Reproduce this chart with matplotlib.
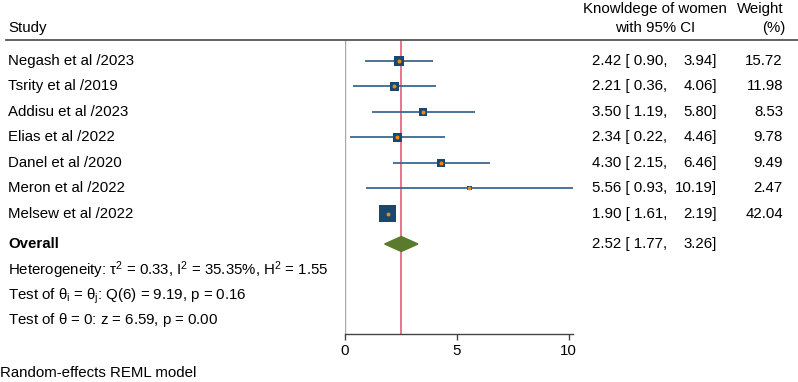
import matplotlib
matplotlib.use('Agg')
import matplotlib.pyplot as plt
import matplotlib.transforms as mtransforms
from matplotlib.lines import Line2D
from matplotlib.patches import Polygon
import numpy as np

plt.rcParams['font.family'] = ['Liberation Sans', 'DejaVu Sans']
plt.rcParams['mathtext.fontset'] = 'custom'
plt.rcParams['mathtext.rm'] = 'Liberation Sans'
plt.rcParams['mathtext.it'] = 'Liberation Sans'
plt.rcParams['mathtext.default'] = 'regular'

# data
studies = ['Negash et al /2023', 'Tsrity et al /2019', 'Addisu et al /2023',
           'Elias et al /2022', 'Danel et al /2020', 'Meron et al /2022',
           'Melsew et al /2022']
es = [2.42, 2.21, 3.50, 2.34, 4.30, 5.56, 1.90]
lo = [0.90, 0.36, 1.19, 0.22, 2.15, 0.93, 1.61]
hi = [3.94, 4.06, 5.80, 4.46, 6.46, 10.19, 2.19]
weight = [15.72, 11.98, 8.53, 9.78, 9.49, 2.47, 42.04]
overall = (2.52, 1.77, 3.26)
stats_lines = [r'Heterogeneity: $\tau^2$ = 0.33, $I^2$ = 35.35%, $H^2$ = 1.55',
               r'Test of $\theta_i$ = $\theta_j$: Q(6) = 9.19, p = 0.16',
               r'Test of $\theta$ = 0: z = 6.59, p = 0.00']

W, H = 798, 382
fig = plt.figure(figsize=(W / 100, H / 100), dpi=100)

# plot region in pixels
x0px, x1px = 345, 573
ytop, ybot = 40, 334
ax = fig.add_axes([x0px / W, 1 - ybot / H, (x1px - x0px) / W, (ybot - ytop) / H])
ax.set_xlim(0, 10.19)
row_h = 25.45
ax.set_ylim((ybot - 61) / row_h, (ytop - 61) / row_h)

navy = '#1a476f'
ci_col = '#3d6892'
orange = '#ec8a14'
green = '#5a7a2c'
red = '#e0506f'

rows = np.arange(len(studies))
ax.axvline(0, color='#a8a8a8', lw=1.0, zorder=1)
ax.axvline(overall[0], color=red, lw=1.1, zorder=2)
ax.hlines(rows, lo, hi, color=ci_col, lw=1.3, zorder=3)
sizes = (17.5 * 0.72) ** 2 * np.array(weight) / max(weight)
ax.scatter(es, rows, s=sizes, marker='s', color=navy, linewidths=0, zorder=4)
ax.scatter(es, rows, s=8, marker='o', color=orange, linewidths=0, zorder=5)

y_ov = (244 - 61) / row_h
dh = 7.5 / row_h
diamond = Polygon([[overall[1], y_ov], [overall[0], y_ov - dh],
                   [overall[2], y_ov], [overall[0], y_ov + dh]],
                  closed=True, color=green, zorder=4)
ax.add_patch(diamond)

for s in ['top', 'right', 'left']:
    ax.spines[s].set_visible(False)
ax.spines['bottom'].set_color('#444444')
ax.spines['bottom'].set_linewidth(1.0)
ax.set_yticks([])
ax.set_xticks([0, 5, 10])
fs = 10.8
ax.tick_params(axis='x', length=4, width=1.0, color='#444444', labelsize=fs, pad=3)

# text columns
tr = mtransforms.blended_transform_factory(fig.transFigure, ax.transData)
lx = 8 / W
ax.text(lx, (28 - 61) / row_h, 'Study', transform=tr, fontsize=fs, va='center')
for i, name in enumerate(studies):
    ax.text(lx, i, name, transform=tr, fontsize=fs, va='center')
    ax.text(592 / W, i, f'{es[i]:.2f} [ {lo[i]:.2f},', transform=tr, fontsize=fs, va='center')
    ax.text(717 / W, i, f'{hi[i]:.2f}]', transform=tr, fontsize=fs, va='center', ha='right')
    ax.text(783 / W, i, f'{weight[i]:.2f}', transform=tr, fontsize=fs, va='center', ha='right')

ax.text(lx, y_ov, 'Overall', transform=tr, fontsize=fs, va='center', fontweight='bold')
ax.text(592 / W, y_ov, f'{overall[0]:.2f} [ {overall[1]:.2f},', transform=tr, fontsize=fs, va='center')
ax.text(717 / W, y_ov, f'{overall[2]:.2f}]', transform=tr, fontsize=fs, va='center', ha='right')

for k, line in enumerate(stats_lines):
    ypx = [270, 296, 320][k]
    ax.text(lx, (ypx - 61) / row_h, line, transform=tr, fontsize=fs, va='center')

# header
fig.text(655 / W, 1 - 9 / H, 'Knowldege of women', fontsize=fs, ha='center', va='center')
fig.text(655 / W, 1 - 28 / H, 'with 95% CI', fontsize=fs, ha='center', va='center')
fig.text(760 / W, 1 - 9 / H, 'Weight', fontsize=fs, ha='center', va='center')
fig.text(774 / W, 1 - 28 / H, '(%)', fontsize=fs, ha='center', va='center')
fig.add_artist(Line2D([6 / W, 1], [1 - 40 / H, 1 - 40 / H], color='#555555', lw=1.3))

fig.text(0, 1 - 373 / H, 'Random-effects REML model', fontsize=fs, ha='left', va='center')

fig.savefig('out.png', dpi=100)
